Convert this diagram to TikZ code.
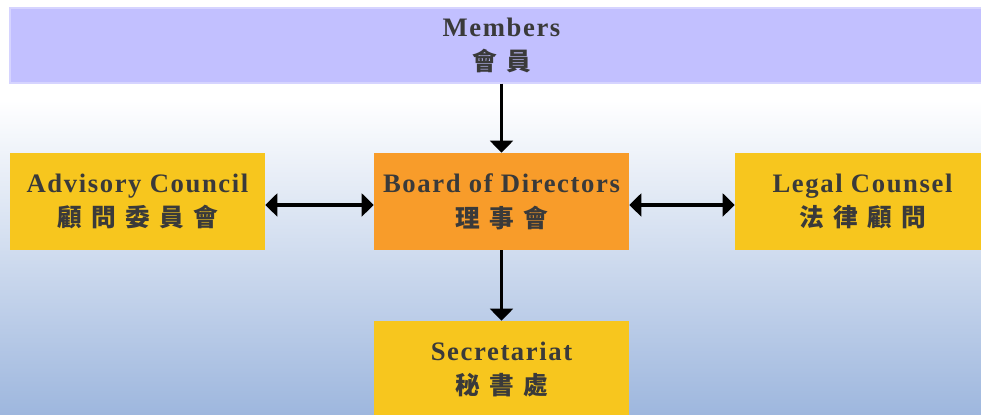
\documentclass[tikz,border=0pt]{standalone}
\usepackage{fontspec}
\newfontfamily\enfont{Liberation Serif}[LetterSpace=6]
\newfontfamily\cjk{Noto Sans CJK TC}[LetterSpace=38]
\usetikzlibrary{arrows.meta}
\definecolor{bgblue}{RGB}{158,183,222}
\definecolor{memfill}{RGB}{194,192,255}
\definecolor{memline}{RGB}{214,212,255}
\definecolor{boxyellow}{RGB}{247,198,30}
\definecolor{boxorange}{RGB}{248,156,42}
\definecolor{txt}{RGB}{58,58,58}
\tikzset{
  orgbox/.style={rectangle, inner sep=0pt, minimum width=255*0.75pt, minimum height=97*0.75pt,
    align=center, text=txt, font=\fontsize{20}{26}\selectfont},
  conn/.style={line width=2.3pt, -{Triangle[length=9pt,width=17pt]}},
  dconn/.style={line width=2.3pt, {Triangle[length=9pt,width=17pt]}-{Triangle[length=9pt,width=17pt]}}
}
\newcommand{\twoline}[2]{{\enfont\bfseries #1}\\{\fontsize{18.5}{26}\selectfont\cjk\bfseries #2}}
\begin{document}
\begin{tikzpicture}[x=0.75pt,y=-0.75pt]
\clip (0,0) rectangle (981,414);
\fill[white] (0,0) rectangle (981,100);
\shade[top color=white, bottom color=bgblue] (0,100) rectangle (981,414);
\node[orgbox, fill=memfill, draw=memline, line width=1pt, minimum width=983*0.75pt, minimum height=75*0.75pt] (mem) at (501.5,45.5)
  {\twoline{Members}{會員}};
\node[orgbox, fill=boxorange] (brd) at (501.5,201.5)
  {\twoline{Board of Directors}{理事會}};
\node[orgbox, fill=boxyellow] (adv) at (137.5,201.5)
  {\twoline{Advisory Council}{顧問委員會}};
\node[orgbox, fill=boxyellow] (leg) at (862.5,201.5)
  {\twoline{Legal Counsel}{法律顧問}};
\node[orgbox, fill=boxyellow] (sec) at (501.5,369.5)
  {\twoline{Secretariat}{秘書處}};
\draw[conn] (mem.south) -- (brd.north);
\draw[conn] (brd.south) -- (sec.north);
\draw[dconn] ([yshift=-2.6pt]adv.east) -- ([yshift=-2.6pt]brd.west);
\draw[dconn] ([yshift=-2.6pt]brd.east) -- ([yshift=-2.6pt]leg.west);
\end{tikzpicture}
\end{document}
